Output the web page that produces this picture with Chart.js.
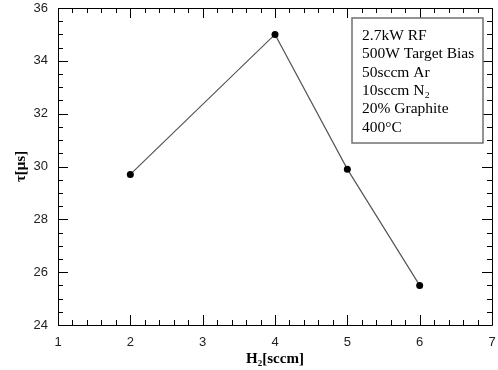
<!DOCTYPE html>
<html><head><meta charset="utf-8">
<script src="https://cdn.jsdelivr.net/npm/chart.js@4/dist/chart.umd.min.js"></script>
<style>html,body{margin:0;padding:0;background:#fff}#w{width:498px;height:370px}</style>
</head><body><div id="w"><canvas id="c" width="498" height="370"></canvas></div>
<script>
const h2Flow = [2, 4, 5, 6];
const tauUs = [29.7, 35.0, 29.9, 25.5];
const xTicks = [1, 2, 3, 4, 5, 6, 7];
const yTicks = [24, 26, 28, 30, 32, 34, 36];
const conditions = ['2.7kW RF', '500W Target Bias', '50sccm Ar', '10sccm N\u2082', '20% Graphite', '400\u00b0C'];

const frame = {
  id: 'frame',
  afterDraw(chart) {
    const ctx = chart.ctx, a = chart.chartArea, xs = chart.scales.x, ys = chart.scales.y;
    ctx.save();
    ctx.strokeStyle = '#000'; ctx.lineWidth = 1;
    ctx.beginPath();
    ctx.rect(Math.round(a.left)+0.5, Math.round(a.top)+0.5, Math.round(a.right-a.left), Math.round(a.bottom-a.top));
    ctx.stroke();
    ctx.beginPath();
    for (let i = 0; i <= 30; i++) {
      const v = xTicks[0] + i * 0.2;
      const px = Math.round(xs.getPixelForValue(v)) + 0.5;
      const len = (i % 5 === 0) ? 10 : 5;
      ctx.moveTo(px, a.bottom); ctx.lineTo(px, a.bottom - len);
      ctx.moveTo(px, a.top); ctx.lineTo(px, a.top + len);
    }
    for (let i = 0; i <= 24; i++) {
      const v = yTicks[0] + i * 0.5;
      const py = Math.round(ys.getPixelForValue(v)) + 0.5;
      const len = (i % 4 === 0) ? 10 : 5;
      ctx.moveTo(a.left, py); ctx.lineTo(a.left + len, py);
      ctx.moveTo(a.right, py); ctx.lineTo(a.right - len, py);
    }
    ctx.stroke();
    const bx = a.right - 140, by = a.top + 10, bw = 131, bh = 125;
    ctx.strokeStyle = '#707070'; ctx.lineWidth = 1.5;
    ctx.fillStyle = '#fff';
    ctx.fillRect(bx, by, bw, bh);
    ctx.strokeRect(bx, by, bw, bh);
    ctx.fillStyle = '#000';
    ctx.font = '15.5px "Liberation Serif", "DejaVu Serif", serif';
    ctx.textBaseline = 'middle'; ctx.textAlign = 'left';
    conditions.forEach((t, i) => ctx.fillText(t, bx + 10, by + 18 + i * 18.3));
    ctx.restore();
  }
};

new Chart(document.getElementById('c'), {
  type: 'scatter',
  data: { datasets: [{
    data: h2Flow.map((x, i) => ({ x, y: tauUs[i] })),
    showLine: true, borderColor: '#555', borderWidth: 1.2,
    pointRadius: 3.5, pointBackgroundColor: '#000', pointBorderColor: '#000', pointBorderWidth: 0
  }]},
  options: {
    responsive: false, animation: false, devicePixelRatio: 1,
    layout: { padding: { top: 8, right: 6, left: 0, bottom: 0 } },
    plugins: { legend: { display: false }, tooltip: { enabled: false } },
    scales: {
      x: {
        type: 'linear', min: 1, max: 7,
        afterBuildTicks: s => { s.ticks = xTicks.map(v => ({ value: v })); },
        afterFit: s => { s.height = 45; s.paddingLeft = 0; s.paddingRight = 0; },
        grid: { display: false, drawTicks: false }, border: { display: false },
        ticks: { color: '#222', padding: 10, font: { family: '"Liberation Sans", Arial, sans-serif', size: 13 } },
        title: { display: true, text: 'H\u2082[sccm]', color: '#000', padding: { top: 0, bottom: 2 },
          font: { family: '"Liberation Serif", "DejaVu Serif", serif', size: 15, weight: 'bold' } }
      },
      y: {
        type: 'linear', min: 24, max: 36,
        afterBuildTicks: s => { s.ticks = yTicks.map(v => ({ value: v })); },
        afterFit: s => { s.width = 58; s.paddingTop = 0; s.paddingBottom = 0; },
        grid: { display: false, drawTicks: false }, border: { display: false },
        ticks: { color: '#222', padding: 10, font: { family: '"Liberation Sans", Arial, sans-serif', size: 13 } },
        title: { display: true, text: '\u03c4[\u03bcs]', color: '#000', padding: { top: 12, bottom: 0 },
          font: { family: '"Liberation Serif", "DejaVu Serif", serif', size: 15, weight: 'bold' } }
      }
    }
  },
  plugins: [frame]
});
</script></body></html>
